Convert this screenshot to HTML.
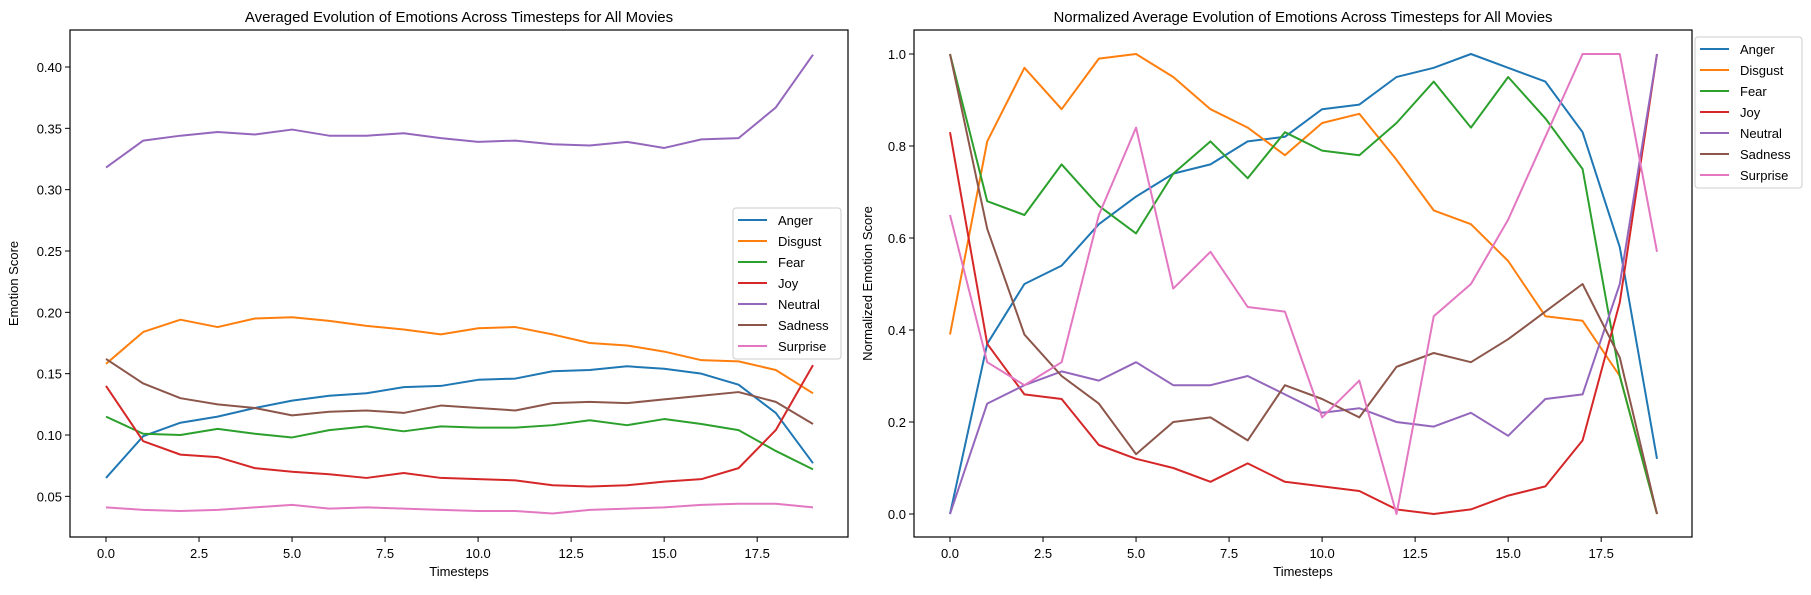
<!DOCTYPE html>
<html><head><meta charset="utf-8"><style>
body{margin:0;background:#fff}
svg text{font-family:"Liberation Sans","DejaVu Sans",sans-serif;fill:#000}
</style></head><body>
<svg id="c" width="1811" height="590"></svg>
<script>
const series = ["Anger","Disgust","Fear","Joy","Neutral","Sadness","Surprise"];
const colors = ["#1f77b4","#ff7f0e","#2ca02c","#d62728","#9467bd","#8c564b","#e377c2"];
const steps = [0,1,2,3,4,5,6,7,8,9,10,11,12,13,14,15,16,17,18,19];
const rawAnger = [.065,.099,.110,.115,.122,.128,.132,.134,.139,.140,.145,.146,.152,.153,.156,.154,.150,.141,.118,.077];
const rawDisgust = [.158,.184,.194,.188,.195,.196,.193,.189,.186,.182,.187,.188,.182,.175,.173,.168,.161,.160,.153,.134];
const rawFear = [.115,.101,.100,.105,.101,.098,.104,.107,.103,.107,.106,.106,.108,.112,.108,.113,.109,.104,.087,.072];
const rawJoy = [.140,.095,.084,.082,.073,.070,.068,.065,.069,.065,.064,.063,.059,.058,.059,.062,.064,.073,.104,.157];
const rawNeutral = [.318,.340,.344,.347,.345,.349,.344,.344,.346,.342,.339,.340,.337,.336,.339,.334,.341,.342,.367,.410];
const rawSadness = [.162,.142,.130,.125,.122,.116,.119,.120,.118,.124,.122,.120,.126,.127,.126,.129,.132,.135,.127,.109];
const rawSurprise = [.041,.039,.038,.039,.041,.043,.040,.041,.040,.039,.038,.038,.036,.039,.040,.041,.043,.044,.044,.041];
const normAnger = [0,.37,.50,.54,.63,.69,.74,.76,.81,.82,.88,.89,.95,.97,1.0,.97,.94,.83,.58,.12];
const normDisgust = [.39,.81,.97,.88,.99,1.0,.95,.88,.84,.78,.85,.87,.77,.66,.63,.55,.43,.42,.30,0];
const normFear = [1.0,.68,.65,.76,.67,.61,.74,.81,.73,.83,.79,.78,.85,.94,.84,.95,.86,.75,.30,0];
const normJoy = [.83,.37,.26,.25,.15,.12,.10,.07,.11,.07,.06,.05,.01,0,.01,.04,.06,.16,.46,1.0];
const normNeutral = [0,.24,.28,.31,.29,.33,.28,.28,.30,.26,.22,.23,.20,.19,.22,.17,.25,.26,.50,1.0];
const normSadness = [1.0,.62,.39,.30,.24,.13,.20,.21,.16,.28,.25,.21,.32,.35,.33,.38,.44,.50,.34,0];
const normSurprise = [.65,.33,.28,.33,.65,.84,.49,.57,.45,.44,.21,.29,0,.43,.50,.64,.82,1.0,1.0,.57];
const xTicks = [0,2.5,5,7.5,10,12.5,15,17.5];
const xTickLabels = ["0.0","2.5","5.0","7.5","10.0","12.5","15.0","17.5"];
const leftYTicks = [0.05,0.10,0.15,0.20,0.25,0.30,0.35,0.40];
const leftYLabels = ["0.05","0.10","0.15","0.20","0.25","0.30","0.35","0.40"];
const rightYTicks = [0,0.2,0.4,0.6,0.8,1.0];
const rightYLabels = ["0.0","0.2","0.4","0.6","0.8","1.0"];

const NS="http://www.w3.org/2000/svg";
const svg=document.getElementById('c');
function el(tag,attrs,parent){const e=document.createElementNS(NS,tag);for(const k in attrs)e.setAttribute(k,attrs[k]);(parent||svg).appendChild(e);return e;}

function panel(cfg){
  const g=el('g',{});
  
  
  const xs=v=>cfg.x0px+(v-0)*(cfg.x19px-cfg.x0px)/19;
  const ys=v=>cfg.yA+(v-cfg.vA)*(cfg.yB-cfg.yA)/(cfg.vB-cfg.vA);
  // lines
  cfg.data.forEach((arr,i)=>{
    const p=el('polyline',{points:arr.map((v,j)=>xs(steps[j])+','+ys(v)).join(' '),fill:'none',stroke:colors[i],'stroke-width':2,'stroke-linejoin':'round'},g);
    
    
  });
  // frame
  const f=el('rect',{x:cfg.L,y:cfg.T,width:cfg.R-cfg.L,height:cfg.B-cfg.T,fill:'none',stroke:'#000','stroke-width':1.2},g);
  
  
  xTicks.forEach((t,i)=>{
    const x=xs(t);
    el('line',{x1:x,x2:x,y1:cfg.B,y2:cfg.B+5,stroke:'#000','stroke-width':1},g);
    const tx=el('text',{x:x,y:cfg.B+21,'text-anchor':'middle','font-size':13},g);
    tx.textContent=xTickLabels[i];
    
    
  });
  cfg.yTicks.forEach((t,i)=>{
    const y=ys(t);
    el('line',{x1:cfg.L-5,x2:cfg.L,y1:y,y2:y,stroke:'#000','stroke-width':1},g);
    const tx=el('text',{x:cfg.L-8,y:y+5,'text-anchor':'end','font-size':13},g);
    tx.textContent=cfg.yLabels[i];
    
    
  });
  const title=el('text',{x:(cfg.L+cfg.R)/2,y:22,'text-anchor':'middle','font-size':15},g);
  title.textContent=cfg.title;
  
  
  const xl=el('text',{x:(cfg.L+cfg.R)/2,y:576,'text-anchor':'middle','font-size':13},g);
  xl.textContent='Timesteps';
  
  
  const yl=el('text',{x:cfg.ylx,y:(cfg.T+cfg.B)/2,'text-anchor':'middle','font-size':13,transform:`rotate(-90 ${cfg.ylx} ${(cfg.T+cfg.B)/2})`},g);
  yl.textContent=cfg.ylabel;
  
  
  // legend
  const lg=el('g',{},g);
  
  
  el('rect',{x:cfg.lgX,y:cfg.lgY,width:cfg.lgW,height:151,rx:3,fill:'#fff','fill-opacity':0.85,stroke:'#ccc'},lg);
  series.forEach((s,i)=>{
    const y=cfg.lgY+12+i*21;
    const e=el('g',{},lg);
    
    
    el('line',{x1:cfg.lgX+5,x2:cfg.lgX+34,y1:y,y2:y,stroke:colors[i],'stroke-width':2},e);
    const t=el('text',{x:cfg.lgX+45,y:y+5,'font-size':13},e);
    t.textContent=s;
  });
}

panel({name:'left-panel',L:70,R:848,T:30,B:537,x0px:106,x19px:813,vA:0.10,yA:435,vB:0.40,yB:67,
  data:[rawAnger,rawDisgust,rawFear,rawJoy,rawNeutral,rawSadness,rawSurprise],
  yTicks:leftYTicks,yLabels:leftYLabels,title:'Averaged Evolution of Emotions Across Timesteps for All Movies',
  ylabel:'Emotion Score',ylx:18,lgX:733,lgY:208,lgW:108});
panel({name:'right-panel',L:914,R:1692,T:30,B:537,x0px:950,x19px:1657,vA:0,yA:514,vB:1.0,yB:54,
  data:[normAnger,normDisgust,normFear,normJoy,normNeutral,normSadness,normSurprise],
  yTicks:rightYTicks,yLabels:rightYLabels,title:'Normalized Average Evolution of Emotions Across Timesteps for All Movies',
  ylabel:'Normalized Emotion Score',ylx:872,lgX:1695,lgY:37,lgW:107});
</script>
</body></html>
